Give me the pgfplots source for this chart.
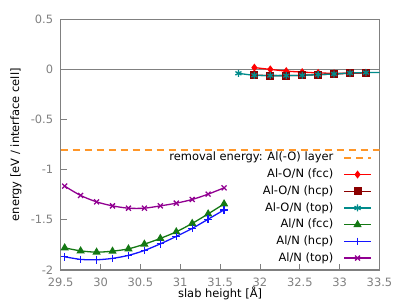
\documentclass[border=0pt]{standalone}
\usepackage{fontspec}
\setmainfont{DejaVu Sans}
\usepackage{pgfplots}
\pgfplotsset{compat=1.18}
\definecolor{axgray}{RGB}{128,128,128}
\definecolor{remorange}{RGB}{255,150,40}
\definecolor{cfcc}{RGB}{255,0,0}
\definecolor{chcp}{RGB}{139,0,0}
\definecolor{ctop}{RGB}{0,139,139}
\definecolor{nfcc}{RGB}{20,120,20}
\definecolor{nhcp}{RGB}{20,20,255}
\definecolor{ntop}{RGB}{145,0,145}
\begin{document}
\begin{tikzpicture}
\useasboundingbox (0bp,0bp) rectangle (407bp,306bp);
\begin{axis}[
  at={(60.7bp,36bp)}, anchor=south west,
  scale only axis, width=318.8bp, height=250.5bp,
  xmin=29.5, xmax=33.5, ymin=-2, ymax=0.5,
  axis line style={axgray, line width=1.2bp},
  tick style={axgray, line width=0.8bp},
  tick align=inside, major tick length=6bp,
  xtick={29.5,30,...,33.5},
  xticklabels={29.5,30,30.5,31,31.5,32,32.5,33,33.5},
  ytick={-2,-1.5,...,0.5},
  yticklabels={-2,-1.5,-1,-0.5,0,0.5},
  xtick pos=bottom, ytick pos=left,
  ticklabel style={text=axgray, font=\fontsize{11.5}{13}\selectfont},
  xticklabel style={yshift=-4.5bp},
  yticklabel style={xshift=-4bp},
  xlabel={slab height [Å]},
  ylabel={energy [eV / interface cell]},
  label style={font=\fontsize{11.5}{13}\selectfont},
  xlabel style={at={(axis description cs:0.5,-0.092)}, anchor=center},
  ylabel style={at={(axis description cs:-0.14,0.5)}, anchor=center},
  legend plot pos=right,
  legend cell align=right,
  legend style={draw=none, fill=none, inner sep=0pt,
    at={(axis description cs:0.9765,0.47)}, anchor=north east,
    font=\fontsize{11.5}{13}\selectfont,
    nodes={text height=8.5bp, text depth=2.3bp, inner ysep=0bp, inner xsep=0bp},
    row sep=5.9bp,
    /tikz/column 1/.style={column sep=10bp}},
  legend image code/.code={\draw[mark repeat=2,mark phase=2,#1] plot coordinates {(0bp,0bp)(13.5bp,0bp)(27bp,0bp)};},
  every axis plot/.append style={line width=1.3bp},
]
\addplot[axgray, line width=0.8bp, forget plot] coordinates {(29.5,0)(33.5,0)};
\addplot[remorange, line width=1.5bp, dash pattern=on 7bp off 5bp] coordinates {(29.5,-0.8)(33.5,-0.8)};
\addlegendentry{removal energy: Al(-O) layer}
\addplot[color=cfcc, smooth, mark=diamond*, mark size=3bp, mark options={solid, draw=cfcc, fill=cfcc}] coordinates {
(31.93,0.020)(32.13,0.002)(32.33,-0.015)(32.53,-0.025)(32.73,-0.033)(32.93,-0.037)(33.13,-0.036)(33.33,-0.032)};
\addlegendentry{Al-O/N (fcc)}
\addplot[color=chcp, smooth, mark=square*, mark size=3.3bp, mark options={solid, draw=chcp, fill=chcp}] coordinates {
(31.93,-0.055)(32.13,-0.060)(32.33,-0.060)(32.53,-0.057)(32.73,-0.050)(32.93,-0.045)(33.13,-0.036)(33.33,-0.031)};
\addlegendentry{Al-O/N (hcp)}
\addplot[color=ctop, smooth, mark=asterisk, mark size=3.5bp, mark options={solid, draw=ctop}] coordinates {
(31.73,-0.037)(31.93,-0.057)(32.13,-0.060)(32.33,-0.060)(32.53,-0.057)(32.73,-0.050)(32.93,-0.044)(33.13,-0.034)(33.33,-0.030)(33.53,-0.028)};
\addlegendentry{Al-O/N (top)}
\addplot[color=nfcc, smooth, mark=triangle*, mark size=3.5bp, mark options={solid, draw=nfcc, fill=nfcc}] coordinates {
(29.55,-1.779)(29.75,-1.809)(29.95,-1.822)(30.15,-1.812)(30.35,-1.789)(30.55,-1.742)(30.75,-1.685)(30.95,-1.619)(31.15,-1.535)(31.35,-1.440)(31.55,-1.340)};
\addlegendentry{Al/N (fcc)}
\addplot[color=nhcp, smooth, mark=+, mark size=3.8bp, mark options={solid, draw=nhcp}] coordinates {
(29.55,-1.868)(29.75,-1.894)(29.95,-1.898)(30.15,-1.884)(30.35,-1.854)(30.55,-1.805)(30.75,-1.739)(30.95,-1.665)(31.15,-1.585)(31.35,-1.493)(31.55,-1.400)};
\addlegendentry{Al/N (hcp)}
\addplot[color=ntop, smooth, mark=x, mark size=3.5bp, mark options={solid, draw=ntop}] coordinates {
(29.55,-1.163)(29.75,-1.256)(29.95,-1.320)(30.15,-1.360)(30.35,-1.383)(30.55,-1.383)(30.75,-1.360)(30.95,-1.333)(31.15,-1.296)(31.35,-1.243)(31.55,-1.180)};
\addlegendentry{Al/N (top)}
\end{axis}
\end{tikzpicture}
\end{document}
